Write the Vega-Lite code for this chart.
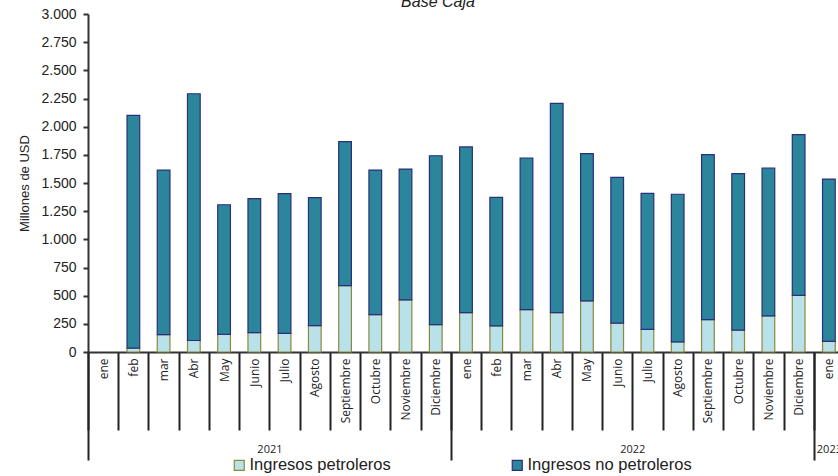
{
  "$schema": "https://vega.github.io/schema/vega-lite/v6.json",
  "autosize": {"type": "none"},
  "padding": {"left": 88, "top": 14, "right": 0, "bottom": 124},
  "width": 756,
  "height": 338,
  "background": "white",
  "title": {"text": "Base Caja", "fontStyle": "italic", "fontWeight": "normal", "font": "Liberation Sans", "fontSize": 16, "color": "#222", "anchor": "middle", "dx": -28, "offset": -3},
  "config": {
    "view": {"stroke": null},
    "locale": {"number": {"decimal": ",", "thousands": ".", "grouping": [3], "currency": ["$", ""]}}
  },
  "resolve": {"scale": {"x": "independent"}},
  "layer": [
    {
      "data": {"values": [
        {"mes": "2021-02", "tipo": "Ingresos petroleros", "valor": 35},
        {"mes": "2021-02", "tipo": "Ingresos no petroleros", "valor": 2065},
        {"mes": "2021-03", "tipo": "Ingresos petroleros", "valor": 155},
        {"mes": "2021-03", "tipo": "Ingresos no petroleros", "valor": 1460},
        {"mes": "2021-04", "tipo": "Ingresos petroleros", "valor": 102},
        {"mes": "2021-04", "tipo": "Ingresos no petroleros", "valor": 2190},
        {"mes": "2021-05", "tipo": "Ingresos petroleros", "valor": 157},
        {"mes": "2021-05", "tipo": "Ingresos no petroleros", "valor": 1150},
        {"mes": "2021-06", "tipo": "Ingresos petroleros", "valor": 172},
        {"mes": "2021-06", "tipo": "Ingresos no petroleros", "valor": 1190},
        {"mes": "2021-07", "tipo": "Ingresos petroleros", "valor": 166},
        {"mes": "2021-07", "tipo": "Ingresos no petroleros", "valor": 1239},
        {"mes": "2021-08", "tipo": "Ingresos petroleros", "valor": 234},
        {"mes": "2021-08", "tipo": "Ingresos no petroleros", "valor": 1136},
        {"mes": "2021-09", "tipo": "Ingresos petroleros", "valor": 589},
        {"mes": "2021-09", "tipo": "Ingresos no petroleros", "valor": 1278},
        {"mes": "2021-10", "tipo": "Ingresos petroleros", "valor": 332},
        {"mes": "2021-10", "tipo": "Ingresos no petroleros", "valor": 1283},
        {"mes": "2021-11", "tipo": "Ingresos petroleros", "valor": 462},
        {"mes": "2021-11", "tipo": "Ingresos no petroleros", "valor": 1162},
        {"mes": "2021-12", "tipo": "Ingresos petroleros", "valor": 243},
        {"mes": "2021-12", "tipo": "Ingresos no petroleros", "valor": 1499},
        {"mes": "2022-01", "tipo": "Ingresos petroleros", "valor": 349},
        {"mes": "2022-01", "tipo": "Ingresos no petroleros", "valor": 1471},
        {"mes": "2022-02", "tipo": "Ingresos petroleros", "valor": 231},
        {"mes": "2022-02", "tipo": "Ingresos no petroleros", "valor": 1142},
        {"mes": "2022-03", "tipo": "Ingresos petroleros", "valor": 376},
        {"mes": "2022-03", "tipo": "Ingresos no petroleros", "valor": 1346},
        {"mes": "2022-04", "tipo": "Ingresos petroleros", "valor": 349},
        {"mes": "2022-04", "tipo": "Ingresos no petroleros", "valor": 1858},
        {"mes": "2022-05", "tipo": "Ingresos petroleros", "valor": 453},
        {"mes": "2022-05", "tipo": "Ingresos no petroleros", "valor": 1307},
        {"mes": "2022-06", "tipo": "Ingresos petroleros", "valor": 257},
        {"mes": "2022-06", "tipo": "Ingresos no petroleros", "valor": 1293},
        {"mes": "2022-07", "tipo": "Ingresos petroleros", "valor": 201},
        {"mes": "2022-07", "tipo": "Ingresos no petroleros", "valor": 1207},
        {"mes": "2022-08", "tipo": "Ingresos petroleros", "valor": 89},
        {"mes": "2022-08", "tipo": "Ingresos no petroleros", "valor": 1311},
        {"mes": "2022-09", "tipo": "Ingresos petroleros", "valor": 287},
        {"mes": "2022-09", "tipo": "Ingresos no petroleros", "valor": 1464},
        {"mes": "2022-10", "tipo": "Ingresos petroleros", "valor": 195},
        {"mes": "2022-10", "tipo": "Ingresos no petroleros", "valor": 1388},
        {"mes": "2022-11", "tipo": "Ingresos petroleros", "valor": 320},
        {"mes": "2022-11", "tipo": "Ingresos no petroleros", "valor": 1313},
        {"mes": "2022-12", "tipo": "Ingresos petroleros", "valor": 503},
        {"mes": "2022-12", "tipo": "Ingresos no petroleros", "valor": 1426},
        {"mes": "2023-01", "tipo": "Ingresos petroleros", "valor": 95},
        {"mes": "2023-01", "tipo": "Ingresos no petroleros", "valor": 1440}
      ]},
      "mark": {"type": "bar", "strokeWidth": 1.2, "width": {"band": 0.42}},
      "encoding": {
        "x": {
          "field": "mes", "type": "ordinal",
          "scale": {
            "domain": ["2021-01","2021-02","2021-03","2021-04","2021-05","2021-06","2021-07","2021-08","2021-09","2021-10","2021-11","2021-12","2022-01","2022-02","2022-03","2022-04","2022-05","2022-06","2022-07","2022-08","2022-09","2022-10","2022-11","2022-12","2023-01"],
            "paddingInner": 0, "paddingOuter": 0
          },
          "axis": {
            "title": null,
            "labelExpr": "isString(datum.value) ? ['ene','feb','mar','Abr','May','Junio','Julio','Agosto','Septiembre','Octubre','Noviembre','Diciembre'][toNumber(substring(datum.value, 5, 7)) - 1] : ''",
            "labelAngle": -90, "labelAlign": "right", "labelBaseline": "middle",
            "labelFont": "Open Sans", "labelFontSize": 12, "labelColor": "#222",
            "tickBand": "extent", "tickSize": 78, "tickWidth": 2, "tickColor": "#222",
            "labelPadding": -72,
            "domainColor": "#333", "domainWidth": 2,
            "grid": false
          }
        },
        "y": {
          "field": "valor", "type": "quantitative", "stack": "zero",
          "scale": {"domain": [0, 3000], "nice": false},
          "axis": {
            "title": "Millones de USD",
            "titleFont": "Liberation Sans", "titleFontSize": 13, "titleFontWeight": "normal", "titleColor": "#222", "titlePadding": 9,
            "values": [0,250,500,750,1000,1250,1500,1750,2000,2250,2500,2750,3000],
            "format": ",d",
            "labelFont": "Liberation Sans", "labelFontSize": 14, "labelColor": "#222", "labelPadding": 7,
            "tickSize": 5, "tickWidth": 2, "tickColor": "#333",
            "domainColor": "#333", "domainWidth": 2,
            "grid": false
          }
        },
        "color": {
          "field": "tipo", "type": "nominal",
          "sort": ["Ingresos petroleros", "Ingresos no petroleros"],
          "scale": {"domain": ["Ingresos petroleros", "Ingresos no petroleros"], "range": ["#b9e1ea", "#2b869c"]},
          "legend": {
            "title": null, "orient": "none", "legendX": 143, "legendY": 443, "direction": "horizontal",
            "symbolType": "square", "symbolSize": 100, "symbolStrokeWidth": 1.2,
            "labelFont": "Liberation Sans", "labelFontSize": 16.5, "labelColor": "#222", "labelOffset": 2,
            "labelLimit": 400, "columnPadding": 118
          }
        },
        "stroke": {
          "field": "tipo", "type": "nominal",
          "scale": {"domain": ["Ingresos petroleros", "Ingresos no petroleros"], "range": ["#8a8a3c", "#2b2e7a"]},
          "legend": null
        },
        "order": {"field": "tipo", "type": "nominal", "sort": "descending"}
      }
    },
    {
      "data": {"values": [{"p": 0}, {"p": 25}]},
      "mark": {"type": "point", "opacity": 0},
      "encoding": {
        "x": {
          "field": "p", "type": "quantitative",
          "scale": {"domain": [0, 25], "nice": false, "zero": false},
          "axis": {
            "orient": "bottom", "title": null, "values": [0, 12, 24], "labels": false,
            "tickSize": 108, "tickWidth": 2, "tickColor": "#222", "domain": false, "grid": false
          }
        }
      }
    },
    {
      "data": {"values": [{"p": 0}, {"p": 25}]},
      "mark": {"type": "point", "opacity": 0},
      "encoding": {
        "x": {
          "field": "p", "type": "quantitative",
          "scale": {"domain": [0, 25], "nice": false, "zero": false},
          "axis": {
            "orient": "bottom", "title": null, "values": [6, 18, 24.5],
            "labelExpr": "datum.value == 6 ? '2021' : datum.value == 18 ? '2022' : '2023'",
            "ticks": false, "domain": false, "grid": false,
            "labelFont": "Open Sans", "labelFontSize": 11, "labelColor": "#222",
            "labelBaseline": "top", "labelPadding": 91, "labelFlush": false, "labelOverlap": false
          }
        }
      }
    }
  ]
}
